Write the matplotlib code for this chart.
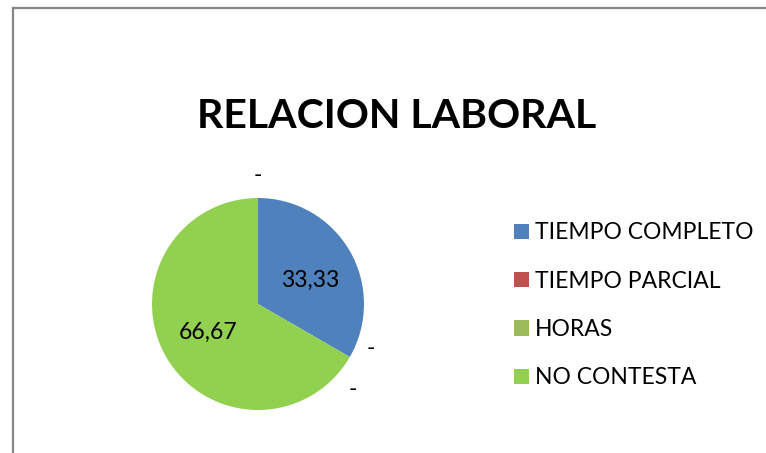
import matplotlib.pyplot as plt
from matplotlib.lines import Line2D
from matplotlib.patches import Patch

# ======================
# datos
# ======================
categorias = ["TIEMPO COMPLETO", "TIEMPO PARCIAL", "HORAS", "NO CONTESTA"]
valores = [33.33, 0, 0, 66.67]
etiquetas = ["33,33", "-", "-", "66,67"]
colores = ["#4F81BD", "#C0504D", "#9BBB59", "#92D050"]

W, H = 766, 453
FONT = "Lato"

fig = plt.figure(figsize=(W / 100, H / 100), dpi=100)

# marco (solo arriba e izquierda visibles)
fig.add_artist(Line2D([13 / W, 1], [1 - 7.5 / H, 1 - 7.5 / H], color="#868686", lw=1.6))
fig.add_artist(Line2D([13 / W, 13 / W], [0, 1 - 7.5 / H], color="#868686", lw=1.6))

# ======================
# pastel
# ======================
cx, cy, r = 258, 304, 106
ax = fig.add_axes([(cx - r) / W, (H - cy - r) / H, 2 * r / W, 2 * r / H])
wedges, _ = ax.pie(valores, colors=colores, startangle=90, counterclock=False,
                   radius=1, wedgeprops=dict(linewidth=0))
ax.set_xlim(-1, 1)
ax.set_ylim(-1, 1)
ax.set_aspect("equal")
ax.axis("off")

# posiciones de etiquetas (relativas al radio)
pos_etiquetas = [(0.49, 0.22), (1.06, -0.42), (0.89, -0.81), (-0.47, -0.27)]
for txt, (x, y) in zip(etiquetas, pos_etiquetas):
    ax.text(x, y, txt, ha="center", va="center", fontsize=16.5, family=FONT, color="black")
# guion extra arriba
ax.text(0.0, 1.21, "-", ha="center", va="center", fontsize=16.5, family=FONT)

# ======================
# titulo y leyenda
# ======================
fig.text(397 / W, 1 - 116 / H, "RELACION LABORAL", ha="center", va="center",
         fontsize=29.5, fontweight="bold", family=FONT)

handles = [Patch(facecolor=c, edgecolor="none") for c in colores]
fig.legend(handles, categorias, loc="upper left", bbox_to_anchor=(503 / W, 1 - 211 / H),
           frameon=False, prop=dict(family=FONT, size=16.5), handlelength=0.65,
           handleheight=0.65, handletextpad=0.25, labelspacing=1.19, borderpad=0)

fig.savefig("out.png", dpi=100)
